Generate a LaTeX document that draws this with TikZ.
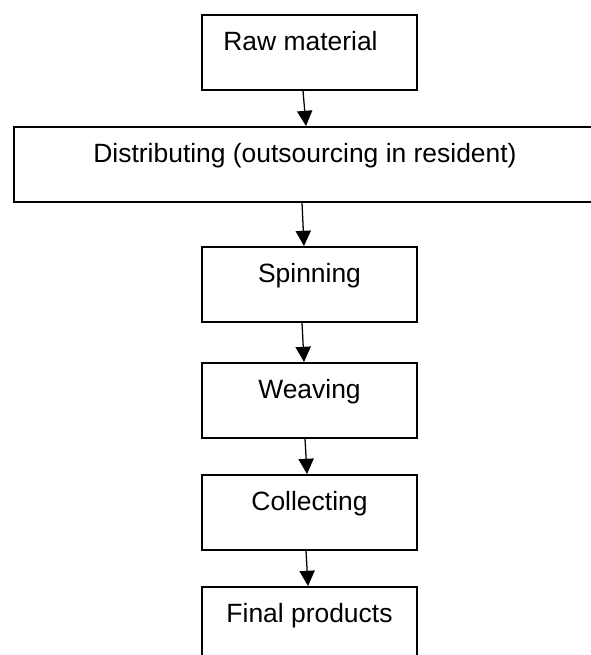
\documentclass[tikz,border=0pt]{standalone}
\usepackage{fontspec}
\setmainfont{Liberation Sans}
\usepackage{tikz}
\usetikzlibrary{arrows.meta, calc}
\tikzset{
  stepbox/.style={rectangle, draw=black, line width=1.2pt,
    minimum width=5.375cm, inner xsep=0pt, inner ysep=0pt,
    text height=0.8875cm, text depth=0.9875cm, anchor=north,
    font=\fontsize{18.8}{22}\selectfont},
  widebox/.style={stepbox, minimum width=14.55cm},
  arrow/.style={-{Triangle[length=0.38cm, width=0.38cm]}, line width=0.9pt, color=black}
}

\begin{document}
\begin{tikzpicture}[x=0.025cm, y=-0.025cm]
  \useasboundingbox (0,0) rectangle (590,655);
  % process steps
  \node[stepbox] (raw)  at (309.5,14)  {Raw material\hspace*{0.45cm}};
  \node[widebox] (dist) at (305,126)   {Distributing (outsourcing in resident)};
  \node[stepbox] (spin) at (309.5,246) {Spinning};
  \node[stepbox] (weav) at (309.5,362) {Weaving};
  \node[stepbox] (coll) at (309.5,474) {Collecting};
  \node[stepbox] (fin)  at (309.5,586) {Final products};
  % flow arrows
  \draw[arrow] ($(raw.south)+(-6.5,0)$)  -- ($(dist.north)+(1,0)$);
  \draw[arrow] ($(dist.south)+(-3,0)$)   -- ($(spin.north)+(-5.5,0)$);
  \draw[arrow] ($(spin.south)+(-7.5,0)$) -- ($(weav.north)+(-5.5,0)$);
  \draw[arrow] ($(weav.south)+(-4.5,0)$) -- ($(coll.north)+(-2.5,0)$);
  \draw[arrow] ($(coll.south)+(-3.5,0)$) -- ($(fin.north)+(-1.5,0)$);
\end{tikzpicture}
\end{document}
